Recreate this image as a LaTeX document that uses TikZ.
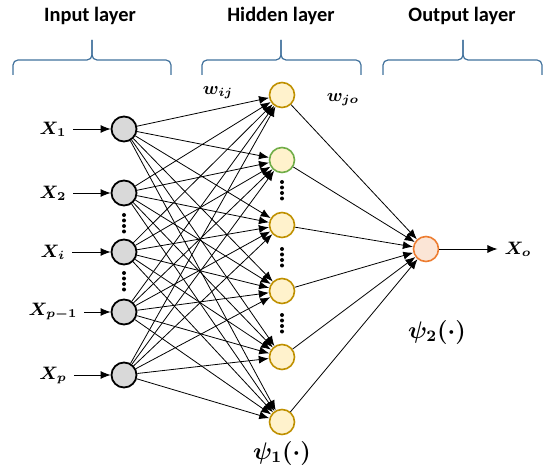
\documentclass[tikz,border=0pt]{standalone}
\usepackage{amsmath}
\usepackage{fontspec}
\setsansfont{Carlito}
\usepackage{tikz}
\usetikzlibrary{positioning, arrows.meta}
\usepackage{xcolor}
\definecolor{bracecol}{RGB}{65,113,156}
\definecolor{hidfill}{RGB}{255,242,204}
\definecolor{hiddraw}{RGB}{191,144,0}
\definecolor{grndraw}{RGB}{112,173,71}
\definecolor{outfill}{RGB}{251,229,214}
\definecolor{outdraw}{RGB}{237,125,49}
\definecolor{infill}{RGB}{217,217,217}

\begin{document}
\begin{tikzpicture}[x=0.5pt, y=-0.5pt,
                  inp/.style={circle, draw, line width=0.9pt, fill=infill,
                              minimum size=12.5pt, inner sep=0pt},
                  hid/.style={circle, draw=hiddraw, line width=0.8pt, fill=hidfill,
                              minimum size=12.5pt, inner sep=0pt},
                  outn/.style={circle, draw=outdraw, line width=0.8pt, fill=outfill,
                              minimum size=12.5pt, inner sep=0pt},
                  lbl/.style={font=\small\boldmath},
                  fn/.style={font=\large\boldmath},
                  ttl/.style={font=\sffamily\bfseries\fontsize{10.2}{12}\selectfont},
                  wire/.style={line width=0.4pt, -{Latex[length=5pt, width=4pt]}},
                  brc/.style={bracecol, line width=0.6pt, rounded corners=2.5pt},
            ]
            \useasboundingbox (0,0) rectangle (550,475);

            % ---- Layer titles and braces ----
            \node[ttl] (TI) at (90,16)  {Input layer};
            \node[ttl] (TH) at (281,16) {Hidden layer};
            \node[ttl] (TO) at (462,16) {Output layer};
            \foreach \a/\m/\b in {13/92/171, 202/281/361, 383/463/542}{
                        \draw[brc] (\a,75) -- (\a,60) -- (\m,60) -- (\m,40);
                        \draw[brc] (\b,75) -- (\b,60) -- (\m,60) -- (\m,40);
                  }

            % ---- Input column (LEFT) ----
            \foreach \i/\y/\lab in {
                        1/129/X_1, 2/193/X_2, 3/252/X_i,
                        4/312/X_{p-1}, 5/375/X_p}{
                        \node[inp] (I\i) at (124,\y) {};
                        \node[lbl] (XL\i) at (53,\y) {$\lab$};
                        \draw[wire] (XL\i) -- (I\i);
                  }

            % ---- Hidden column (MIDDLE) ----
            \foreach \j/\y/\c in {
                        1/95/hiddraw, 2/160/grndraw, 3/225/hiddraw,
                        4/291/hiddraw, 5/357/hiddraw, 6/422/hiddraw}{
                        \node[hid, draw=\c] (H\j) at (282,\y) {};
                  }
            \node[fn] (P1) at (282,453) {$\psi_1(\cdot)$};

            % ---- Output node (RIGHT) ----
            \node[outn] (O) at (426,249) {};
            \node[lbl] (XO) at (518,249) {$X_o$};
            \node[fn] (P2) at (437,332) {$\psi_2(\cdot)$};
            \draw[wire] (O) -- (XO);

            % ---- Weights ----
            \foreach \i in {1,...,5}
                  \foreach \j in {1,...,6}
                        \draw[wire] (I\i) -- (H\j);
            \foreach \j in {1,...,6}
                  \draw[wire] (H\j) -- (O);
            \node[lbl] (WIJ) at (218,93)  {$w_{ij}$};
            \node[lbl] (WJO) at (343,100) {$w_{jo}$};

            % ---- Vertical ellipses ----
            \foreach \x/\y in {124/215, 124/273, 282/182, 282/249, 282/315}
                  \foreach \k in {0,...,3}
                        \fill (\x,{\y+\k*5.5}) circle (2);

      \end{tikzpicture}
\end{document}
